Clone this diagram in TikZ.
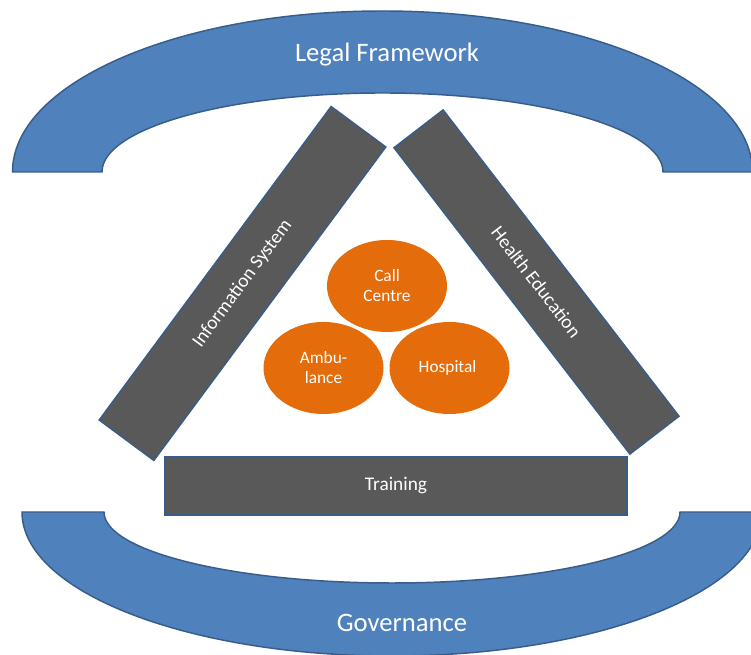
\documentclass[tikz,border=0pt]{standalone}
\usepackage{fontspec}
\setmainfont{Carlito}
\usetikzlibrary{shapes.geometric}
\definecolor{bandblue}{HTML}{4F81BD}
\definecolor{bandedge}{HTML}{385D8A}
\definecolor{pillargray}{HTML}{595959}
\definecolor{coreorange}{HTML}{E46C0A}
\begin{document}
\begin{tikzpicture}[x=0.75pt,y=0.75pt,
  band/.style={fill=bandblue,draw=bandedge,line width=1.1pt},
  bandtext/.style={text=white,font=\fontsize{20}{24}\selectfont},
  pillar/.style={rectangle,fill=pillargray,draw=bandedge,line width=1.1pt,
    text=white,inner sep=0pt,font=\fontsize{14.5}{17}\selectfont},
  core/.style={ellipse,fill=coreorange,text=white,inner sep=0pt,
    minimum width=90pt,minimum height=69pt,align=center,
    font=\fontsize{13}{15}\selectfont}]
\useasboundingbox (0,0) rectangle (751,655);
% outer frame: two block arcs
\draw[band] (12.5,483) arc[start angle=180,end angle=0,x radius=370,y radius=161]
  -- (663,483) arc[start angle=0,end angle=180,x radius=280.5,y radius=79] -- cycle;
\draw[band] (22,143) arc[start angle=180,end angle=360,x radius=370,y radius=144]
  -- (680,143) arc[start angle=0,end angle=-180,x radius=288,y radius=71] -- cycle;
\node[bandtext] (legal) at (387,600) {Legal Framework};
\node[bandtext] (gov) at (402,32) {Governance};
% the three pillars
\node[pillar,rotate=53.5,minimum width=292.5pt,minimum height=51pt] (info) at (242.5,371.5) {Information System};
\node[pillar,rotate=-52.4,minimum width=290pt,minimum height=46.5pt] (health) at (536.5,373) {Health Education};
\node[pillar,minimum width=346.5pt,minimum height=43.5pt] (train) at (396,169) {Training};
% services in the middle
\foreach \x/\y/\name/\txt in {
  387/369/call/{Call\\Centre},
  323.5/287/amb/{Ambu-\\lance},
  449.5/287/hosp/{Hospital}
}{
  \node[core] (\name) at (\x,\y) {\txt};
}
\end{tikzpicture}
\end{document}
